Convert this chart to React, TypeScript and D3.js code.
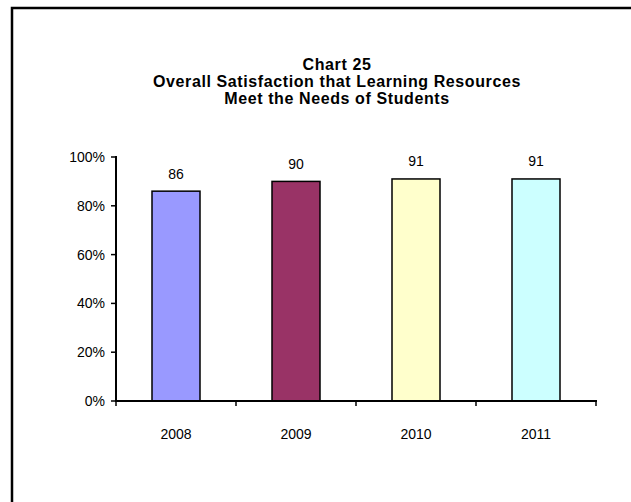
import React from "react";
import * as d3 from "d3";

const categories = ["2008", "2009", "2010", "2011"];
const values = [86, 90, 91, 91];
const colors = ["#9999FF", "#993366", "#FFFFCC", "#CCFFFF"];
const yTicks = [0, 20, 40, 60, 80, 100];
const titleLines = [
  "Chart 25",
  "Overall Satisfaction that Learning Resources",
  "Meet the Needs of Students",
];

export default function App() {
  const W = 631;
  const H = 502;
  const x0 = 116;
  const x1 = 596;
  const yZero = 401;
  const yTop = 157;
  const x = d3.scaleBand<string>().domain(categories).range([x0, x1]).paddingInner(0.6).paddingOuter(0.3);
  const y = d3.scaleLinear().domain([0, 100]).range([yZero, yTop]);
  const font = "'Liberation Sans', Arial, sans-serif";
  const step = (x1 - x0) / categories.length;
  const xTickPos = d3.range(categories.length + 1).map((i) => x0 + i * step);

  return (
    <svg
      width={W}
      height={H}
      style={{ position: "absolute", left: 0, top: 0, background: "#fff" }}
      fontFamily={font}
    >
      <rect x={0} y={0} width={W} height={H} fill="#fff" />
      <rect x={12} y={8} width={W + 20} height={H + 20} fill="none" stroke="#000" strokeWidth={2.5} />
      {titleLines.map((t, i) => (
        <text key={i} x={337} y={70 + i * 17} textAnchor="middle" fontWeight="bold" fontSize={16} letterSpacing={0.6} fill="#000">
          {t}
        </text>
      ))}
      {categories.map((c, i) => (
        <g key={c}>
          <rect
            x={x(c)!}
            y={y(values[i])}
            width={x.bandwidth()}
            height={yZero - y(values[i])}
            fill={colors[i]}
            stroke="#000"
            strokeWidth={1.5}
          />
          <text x={x(c)! + x.bandwidth() / 2} y={y(values[i]) - 12.5} textAnchor="middle" fontSize={14} fill="#000">
            {values[i]}
          </text>
          <text x={x(c)! + x.bandwidth() / 2} y={439} textAnchor="middle" fontSize={14} fill="#000">
            {c}
          </text>
        </g>
      ))}
      <line x1={x0} x2={x0} y1={yTop - 1} y2={yZero + 1} stroke="#000" strokeWidth={2} />
      {yTicks.map((t) => (
        <g key={t}>
          <line x1={x0 - 5} x2={x0} y1={y(t)} y2={y(t)} stroke="#000" strokeWidth={1.5} />
          <text x={105} y={y(t) + 5} textAnchor="end" fontSize={14} fill="#000">
            {t}%
          </text>
        </g>
      ))}
      <line x1={x0 - 1} x2={x1 + 1} y1={yZero} y2={yZero} stroke="#000" strokeWidth={2} />
      {xTickPos.map((p, i) => (
        <line key={i} x1={p} x2={p} y1={yZero} y2={yZero + 5} stroke="#000" strokeWidth={1.5} />
      ))}
    </svg>
  );
}
